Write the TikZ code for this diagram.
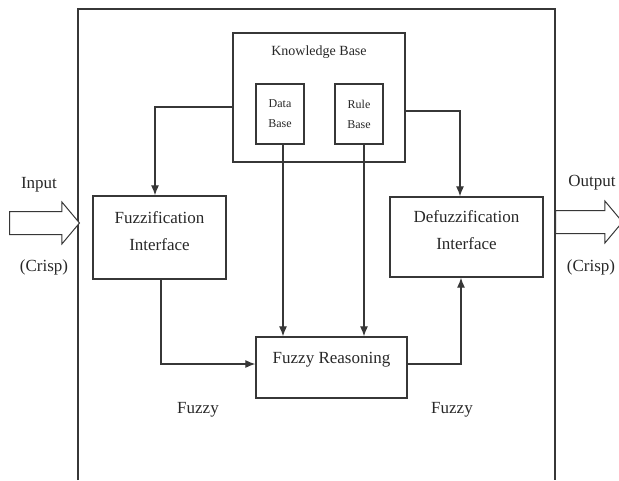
\documentclass[tikz,border=0pt]{standalone}
\usepackage{fontspec}
\setmainfont{Liberation Serif}
\usetikzlibrary{arrows.meta, positioning, shapes.arrows}
\definecolor{LineGray}{RGB}{55, 55, 55}
\definecolor{InkGray}{RGB}{40, 40, 40}

\begin{document}
\begin{tikzpicture}[
            x=1pt, y=-1pt,
            box/.style={rectangle, draw=LineGray, line width=1.3pt, inner sep=0pt},
            boxtext/.style={align=center, text=InkGray, font=\fontsize{17}{27}\selectfont},
            small/.style={rectangle, draw=LineGray, line width=1.3pt, align=center, text=InkGray,
                          minimum width=48pt, minimum height=60pt, font=\fontsize{12}{20}\selectfont},
            lbl/.style={text=InkGray, font=\fontsize{17}{20}\selectfont},
            arrow/.style={-{Latex[length=10pt, width=8pt]}, line width=1.2pt, LineGray},
            fat/.style={single arrow, draw=LineGray, fill=white, line width=1pt, inner xsep=0pt, inner ysep=11pt,
                        minimum width=41pt, single arrow head extend=9.5pt, single arrow tip angle=100}
        ]
            \useasboundingbox (0,0) rectangle (619,480);
            % outer frame, open at the bottom
            \draw[LineGray, line width=1.5pt] (78,480) |- (555,9) -- (555,480);

            \node[box, minimum width=172pt, minimum height=129pt] (kb) at (319,97.5) {};
            \node[text=InkGray, font=\fontsize{14}{16}\selectfont] (kbtext) at ([yshift=-20pt]kb.north) {Knowledge Base};
            \node[small] (data) at (280,114) {Data\\Base};
            \node[small] (rule) at (359,114) {Rule\\Base};

            \node[box, minimum width=133pt, minimum height=83pt,
                  label={[boxtext, yshift=6pt]center:{Fuzzification\\Interface}}] (fuzz) at (159.5,237.5) {};
            \node[box, minimum width=153pt, minimum height=80pt,
                  label={[boxtext, yshift=7pt]center:{Defuzzification\\Interface}}] (defuzz) at (466.5,237) {};
            \node[box, minimum width=151pt, minimum height=61pt,
                  label={[boxtext, yshift=7.5pt]center:Fuzzy Reasoning}] (reason) at (331.5,367.5) {};

            \draw[arrow] ([yshift=-9.5pt]kb.west) -| ([xshift=-4.5pt]fuzz.north);
            \draw[arrow] ([yshift=-13.5pt]kb.east) -| ([xshift=-6.5pt]defuzz.north);
            \draw[arrow] ([xshift=3pt]data.south) -- ([xshift=3pt]data.south |- reason.north);
            \draw[arrow] ([xshift=5pt]rule.south) -- ([xshift=5pt]rule.south |- reason.north);
            \draw[arrow] ([xshift=1.5pt]fuzz.south) |- ([yshift=3.5pt]reason.west);
            \draw[arrow] ([yshift=3.5pt]reason.east) -| ([xshift=-5.5pt]defuzz.south);

            % crisp in and out
            \node[fat, minimum height=70pt, anchor=tail] (input) at (9,223) {};
            \node[fat, minimum height=67pt, anchor=tail] (output) at (555,222) {};
            \node[lbl] (inlbl) at (39,185) {Input};
            \node[lbl] (incrisp) at (44,267) {(Crisp)};
            \node[lbl] (outlbl) at (592,183) {Output};
            \node[lbl] (outcrisp) at (591,267) {(Crisp)};

            \node[lbl] (fuzzyl) at (198,410) {Fuzzy};
            \node[lbl] (fuzzyr) at (452,410) {Fuzzy};
        \end{tikzpicture}
\end{document}
